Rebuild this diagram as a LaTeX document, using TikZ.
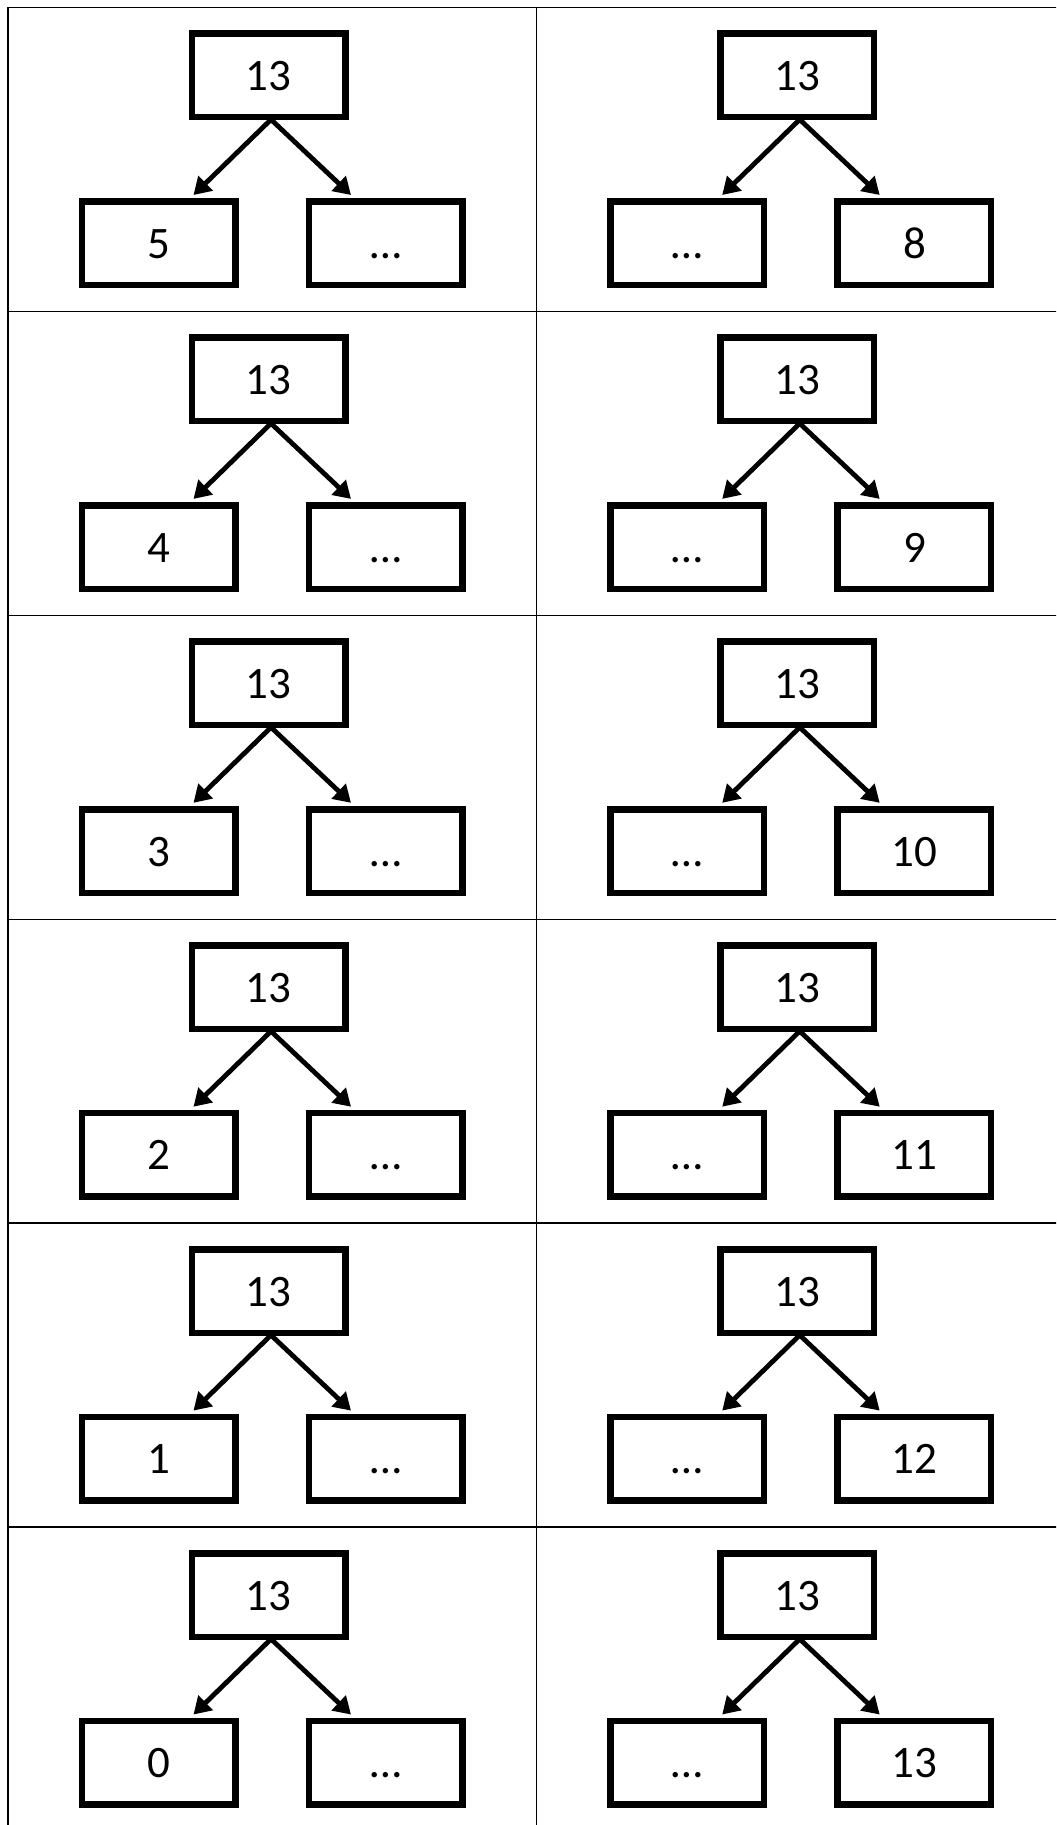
\documentclass[tikz,border=0pt]{standalone}
\usepackage{fontspec}
\setmainfont{Carlito}
\usetikzlibrary{arrows.meta}
\begin{document}
\begin{tikzpicture}[x=0.5pt,y=-0.5pt,
  box/.style={draw=black, line width=3.25pt, rectangle, inner sep=0pt,
    minimum width=76.75pt, minimum height=41.75pt,
    font=\fontsize{22.5}{26}\selectfont, text height=15pt, text depth=0pt},
  arr/.style={line width=2.4pt, -{Triangle[length=8.5pt,width=10pt]}},
  gridline/.style={line width=0.65pt, draw=black}]
\useasboundingbox (0,0) rectangle (1056,1825);
\fill[white] (0,0) rectangle (1056,1825);
\begin{scope}
  \clip (0,0) rectangle (1056,1825);
  \foreach \k in {0,...,5} {
    \draw[gridline] (7.5,7.5+303.9*\k) -- (1070,7.5+303.9*\k);
  }
  \draw[gridline] (8,7) -- (8,1830);
  \draw[gridline] (536.7,7) -- (536.7,1830);
\end{scope}
\foreach \c/\r/\L/\R in {0/0/5/…, 1/0/…/8, 0/1/4/…, 1/1/…/9, 0/2/3/…, 1/2/…/10,
  0/3/2/…, 1/3/…/11, 0/4/1/…, 1/4/…/12, 0/5/0/…, 1/5/…/13} {
  \begin{scope}[shift={(8+528.7*\c,7.5+303.9*\r)}]
    \node[box] (root\c\r) at (260.5,68) {13};
    \node[box] (left\c\r) at (150.5,235.75) {\L};
    \node[box] (right\c\r) at (377.75,235.75) {\R};
    \coordinate (s\c\r) at (263,112);
    \coordinate (tl\c\r) at (185.5,187.5);
    \coordinate (tr\c\r) at (343,187.5);
    \draw[arr] (s\c\r) -- (tl\c\r);
    \draw[arr] (s\c\r) -- (tr\c\r);
  \end{scope}
}
\end{tikzpicture}
\end{document}
